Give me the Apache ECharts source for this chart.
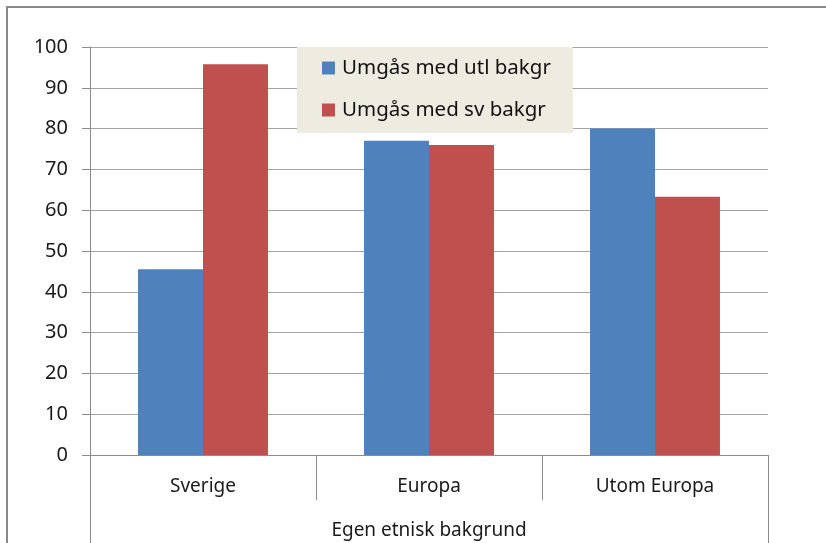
<!DOCTYPE html>
<html>
<head>
<meta charset="utf-8">
<title>Umgås med bakgrund</title>
<script src="https://cdn.jsdelivr.net/npm/echarts@6/dist/echarts.min.js"></script>
<style>
    html, body { margin: 0; padding: 0; background: #fff; }
    #wrap { position: relative; width: 826px; height: 543px; }
    #chart { width: 826px; height: 543px; }
    #frame {
        position: absolute; left: 6px; top: 6px; right: 0; bottom: 0;
        border-left: 2px solid #8a8a8a; border-top: 2px solid #8a8a8a;
        pointer-events: none;
    }
</style>
</head>
<body>
<div id="wrap">
    <div id="chart"></div>
    <div id="frame"></div>
</div>
<script>
    // data
    var categories = ['Sverige', 'Europa', 'Utom Europa'];
    var groupLabel = ['Egen etnisk bakgrund'];
    var utlBakgr = [45.5, 77, 80];
    var svBakgr = [95.8, 76, 63.3];
    var seriesNames = ['Umgås med utl bakgr', 'Umgås med sv bakgr'];

    var font = '"Noto Sans", sans-serif';
    var gridColor = '#a3a3a3';
    var axisColor = '#8c8c8c';
    var textColor = '#1a1a1a';

    var chart = echarts.init(document.getElementById('chart'), null, {
        renderer: 'canvas'
    });
    chart.setOption({
        animation: false,
        textStyle: { fontFamily: font },
        grid: { left: 90, right: 58, top: 47, bottom: 88 },
        legend: {
            data: seriesNames,
            orient: 'vertical',
            left: 297,
            top: 47,
            backgroundColor: '#eeece1',
            padding: [10, 22, 12, 25],
            itemGap: 20,
            itemWidth: 13,
            itemHeight: 13,
            icon: 'rect',
            textStyle: {
                fontFamily: font,
                fontSize: 20.5,
                color: '#111',
                lineHeight: 22,
                padding: [0, 0, 0, 2]
            }
        },
        xAxis: [
            {
                type: 'category',
                data: categories,
                position: 'bottom',
                axisLine: { lineStyle: { color: axisColor, width: 1 } },
                axisTick: {
                    show: true,
                    alignWithLabel: false,
                    length: 45,
                    lineStyle: { color: axisColor }
                },
                axisLabel: { fontSize: 19, color: textColor, margin: 22 },
                splitLine: { show: false }
            },
            {
                type: 'category',
                data: groupLabel,
                position: 'bottom',
                offset: 45,
                axisLine: { show: false },
                axisTick: {
                    show: true,
                    length: 45,
                    lineStyle: { color: axisColor }
                },
                axisLabel: { fontSize: 19, color: textColor, margin: 21 },
                splitLine: { show: false }
            }
        ],
        yAxis: {
            type: 'value',
            min: 0,
            max: 100,
            interval: 10,
            axisLine: { show: true, lineStyle: { color: axisColor } },
            axisTick: {
                show: true,
                inside: false,
                length: 8,
                lineStyle: { color: axisColor }
            },
            axisLabel: { fontSize: 20, color: textColor, margin: 22 },
            splitLine: { show: true, lineStyle: { color: gridColor, width: 1 } }
        },
        series: [
            {
                name: seriesNames[0],
                type: 'bar',
                xAxisIndex: 0,
                barGap: 0,
                barCategoryGap: '42.5%',
                itemStyle: { color: '#4f81bd' },
                data: utlBakgr
            },
            {
                name: seriesNames[1],
                type: 'bar',
                xAxisIndex: 0,
                barGap: 0,
                barCategoryGap: '42.5%',
                itemStyle: { color: '#c0504d' },
                data: svBakgr
            }
        ]
    });
</script>
</body>
</html>
